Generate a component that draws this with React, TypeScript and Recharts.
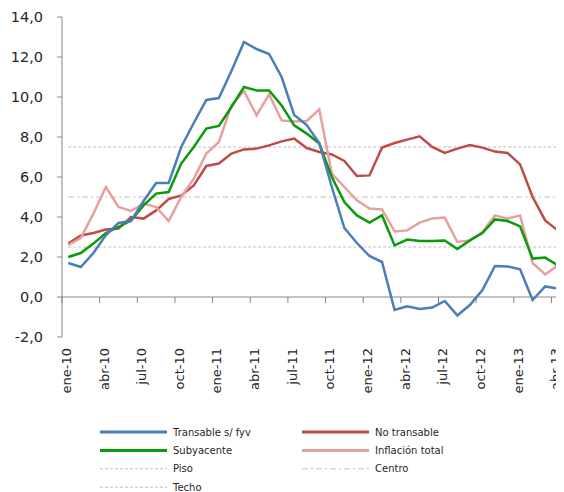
import React from 'react';
import { LineChart, Line, XAxis, YAxis, ReferenceLine } from 'recharts';

const months = [
  'ene-10', 'feb-10', 'mar-10', 'abr-10', 'may-10', 'jun-10', 'jul-10', 'ago-10', 'sep-10', 'oct-10', 'nov-10', 'dic-10',
  'ene-11', 'feb-11', 'mar-11', 'abr-11', 'may-11', 'jun-11', 'jul-11', 'ago-11', 'sep-11', 'oct-11', 'nov-11', 'dic-11',
  'ene-12', 'feb-12', 'mar-12', 'abr-12', 'may-12', 'jun-12', 'jul-12', 'ago-12', 'sep-12', 'oct-12', 'nov-12', 'dic-12',
  'ene-13', 'feb-13', 'mar-13', 'abr-13',
];

const transable = [
  1.7, 1.5, 2.2, 3.1, 3.7, 3.8, 4.8, 5.7, 5.7, 7.5, 8.7, 9.85,
  9.95, 11.3, 12.75, 12.4, 12.15, 11.0, 9.1, 8.6, 7.7, 5.5, 3.45, 2.7,
  2.05, 1.75, -0.65, -0.47, -0.6, -0.53, -0.2, -0.92, -0.4, 0.35, 1.55, 1.53,
  1.38, -0.15, 0.53, 0.42,
];
const noTransable = [
  2.67, 3.08, 3.2, 3.37, 3.42, 4.0, 3.92, 4.33, 4.9, 5.08, 5.58, 6.55,
  6.67, 7.17, 7.38, 7.42, 7.58, 7.78, 7.92, 7.45, 7.25, 7.13, 6.8, 6.05,
  6.08, 7.47, 7.7, 7.87, 8.03, 7.5, 7.2, 7.42, 7.6, 7.47, 7.27, 7.2,
  6.63, 5.0, 3.83, 3.33,
];
const subyacente = [
  2.0, 2.2, 2.67, 3.2, 3.5, 3.83, 4.58, 5.17, 5.25, 6.67, 7.5, 8.42,
  8.55, 9.5, 10.5, 10.33, 10.33, 9.58, 8.58, 8.17, 7.67, 6.0, 4.75, 4.08,
  3.72, 4.08, 2.58, 2.87, 2.8, 2.8, 2.83, 2.4, 2.83, 3.2, 3.88, 3.8,
  3.53, 1.92, 1.97, 1.58,
];
const inflacion = [
  2.6, 2.95, 4.17, 5.5, 4.5, 4.3, 4.67, 4.5, 3.8, 5.0, 5.92, 7.17,
  7.75, 9.58, 10.3, 9.08, 10.13, 8.83, 8.78, 8.8, 9.38, 6.17, 5.5, 4.83,
  4.42, 4.38, 3.28, 3.33, 3.72, 3.92, 3.97, 2.75, 2.83, 3.25, 4.08, 3.92,
  4.08, 1.7, 1.13, 1.58,
];

const PISO = 2.5;
const CENTRO = 5;
const TECHO = 7.5;
const yTicks = [-2, 0, 2, 4, 6, 8, 10, 12, 14];

const data = months.map((m, i) => ({
  month: m,
  transable: transable[i],
  noTransable: noTransable[i],
  subyacente: subyacente[i],
  inflacion: inflacion[i],
}));

const FONT = '"DejaVu Sans", Verdana, sans-serif';
const AXIS = '#868686';
const REF = '#bfbfbf';

const fmt = (v: number) => v.toFixed(1).replace('.', ',');

const MonthTick = (props: any) => {
  const { x, y, payload } = props;
  return (
    <text
      x={x}
      y={y}
      transform={`rotate(-90, ${x}, ${y})`}
      textAnchor="end"
      dy="0.2em"
      fontSize={13}
      fontFamily={FONT}
      fill="#262626"
    >
      {payload.value}
    </text>
  );
};

// axis line at y = 0 with tick marks every 3 months, on the category boundaries
const ZeroAxis = (props: any) => {
  const { x1, y1, x2 } = props;
  const step = (x2 - x1) / months.length;
  const marks = [];
  for (let k = 0; k <= months.length; k += 3) {
    marks.push(<line key={k} x1={x1 + k * step} x2={x1 + k * step} y1={y1} y2={y1 + 6} stroke={AXIS} />);
  }
  return (
    <g>
      <line x1={x1} x2={x2} y1={y1} y2={y1} stroke={AXIS} />
      {marks}
    </g>
  );
};

const legendItems = [
  { label: 'Transable s/ fyv', color: '#4a7ebb', width: 3, dash: undefined, col: 0, row: 0 },
  { label: 'No transable', color: '#be4b48', width: 3, dash: undefined, col: 1, row: 0 },
  { label: 'Subyacente', color: '#0a9a0a', width: 3, dash: undefined, col: 0, row: 1 },
  { label: 'Inflación total', color: '#e6a19f', width: 3, dash: undefined, col: 1, row: 1 },
  { label: 'Piso', color: REF, width: 1, dash: '3 2', col: 0, row: 2 },
  { label: 'Centro', color: REF, width: 1, dash: '6 3 2 3', col: 1, row: 2 },
  { label: 'Techo', color: REF, width: 1, dash: '3 2', col: 0, row: 3 },
];

const ChartLegend = () => (
  <svg width={556} height={80} style={{ position: 'absolute', left: 0, top: 405 }}>
    {legendItems.map((it) => {
      const lx = it.col === 0 ? 92 : 294;
      const ly = 19 + it.row * 18.4;
      return (
        <g key={it.label}>
          <line x1={lx} x2={lx + 67} y1={ly} y2={ly} stroke={it.color} strokeWidth={it.width} strokeDasharray={it.dash} />
          <text x={lx + 73} y={ly} dy="0.35em" fontSize={10} fontFamily={FONT} fill="#262626">
            {it.label}
          </text>
        </g>
      );
    })}
  </svg>
);

export default function App() {
  return (
    <div style={{ position: 'relative', width: 556, height: 484 }}>
      <LineChart width={556} height={405} data={data} margin={{ top: 9, right: 0, left: 0, bottom: 0 }}>
        <XAxis
          dataKey="month"
          scale="band"
          interval={2}
          height={76}
          axisLine={false}
          tickLine={false}
          tick={<MonthTick />}
          tickSize={0}
          tickMargin={11}
        />
        <YAxis
          domain={[-2, 14]}
          ticks={yTicks}
          width={54}
          tickFormatter={fmt}
          stroke={AXIS}
          tickSize={5}
          tickMargin={14}
          tick={{ fontSize: 14.5, fontFamily: FONT, fill: '#262626' }}
        />
        <ReferenceLine y={0} shape={<ZeroAxis />} />
        <ReferenceLine segment={[{ x: months[0], y: TECHO }, { x: months[months.length - 1], y: TECHO }]} stroke={REF} strokeDasharray="3 2" />
        <ReferenceLine segment={[{ x: months[0], y: CENTRO }, { x: months[months.length - 1], y: CENTRO }]} stroke={REF} strokeDasharray="6 3 2 3" />
        <ReferenceLine segment={[{ x: months[0], y: PISO }, { x: months[months.length - 1], y: PISO }]} stroke={REF} strokeDasharray="3 2" />
        <Line dataKey="noTransable" stroke="#be4b48" strokeWidth={2.5} dot={false} isAnimationActive={false} />
        <Line dataKey="inflacion" stroke="#e6a19f" strokeWidth={2.5} dot={false} isAnimationActive={false} />
        <Line dataKey="subyacente" stroke="#0a9a0a" strokeWidth={2.5} dot={false} isAnimationActive={false} />
        <Line dataKey="transable" stroke="#4a7ebb" strokeWidth={2.5} dot={false} isAnimationActive={false} />
      </LineChart>
      <ChartLegend />
    </div>
  );
}
